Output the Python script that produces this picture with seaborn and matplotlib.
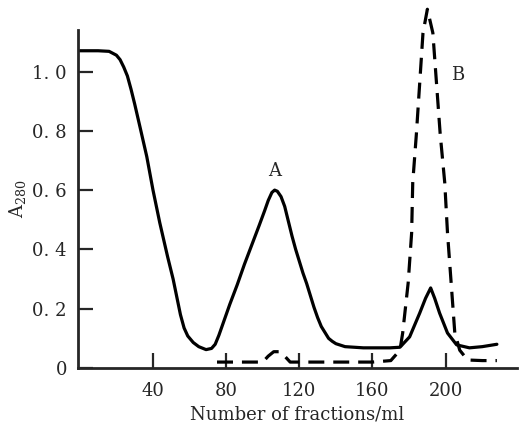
import matplotlib
matplotlib.use("Agg")
import matplotlib.pyplot as plt
import seaborn as sns
import pandas as pd

# Solid curve (A280 profile)
solid_x = [0, 10, 16, 20, 22, 24, 26, 28, 30, 33, 36.6, 40, 43.7, 48, 51, 53, 55, 57, 59, 62, 65, 69, 72, 74, 76,
           78, 80, 82, 86, 90, 94, 98, 101, 103, 105, 106.5, 108, 110, 112, 114, 116, 118, 120, 122, 124, 126, 128, 130,
           132, 134, 136, 138, 140, 145, 155,
           169.6, 175, 180.3, 185.8, 189, 191.8, 194, 196.7, 201, 206, 213, 220, 228]
solid_y = [1.07, 1.07, 1.068, 1.055, 1.04, 1.015, 0.985, 0.94, 0.89, 0.81, 0.713, 0.60, 0.49, 0.375, 0.30, 0.24, 0.18, 0.135, 0.108, 0.086, 0.072, 0.062, 0.066, 0.08, 0.11,
           0.145, 0.18, 0.215, 0.28, 0.35, 0.415, 0.48, 0.53, 0.565, 0.592, 0.60, 0.596, 0.578, 0.545, 0.495, 0.445, 0.40, 0.36, 0.32, 0.285, 0.245, 0.205, 0.17,
           0.14, 0.12, 0.10, 0.09, 0.082, 0.072, 0.068,
           0.068, 0.07, 0.105, 0.185, 0.235, 0.27, 0.235, 0.185, 0.118, 0.078, 0.068, 0.072, 0.08]

# Dashed curve
dash_x = [75, 100, 103, 106, 109, 112, 115, 160, 170, 175, 176.5, 179.5, 181.4, 182, 184, 185.8, 187.6, 190,
          193, 195, 197, 199.5, 201, 203, 205, 207.7, 212, 220, 228]
dash_y = [0.02, 0.02, 0.04, 0.055, 0.055, 0.04, 0.02, 0.02, 0.025, 0.06, 0.118, 0.287, 0.456, 0.625, 0.79, 0.96, 1.13, 1.21,
          1.13, 0.96, 0.79, 0.625, 0.456, 0.287, 0.118, 0.06, 0.027, 0.025, 0.025]

x_ticks = [40, 80, 120, 160, 200]
y_ticks = [0, 0.2, 0.4, 0.6, 0.8, 1.0]
y_tick_labels = ["0", "0. 2", "0. 4", "0. 6", "0. 8", "1. 0"]

peak_labels = ["A", "B"]
peak_label_x = [106.5, 206.5]
peak_label_y = [0.663, 0.987]

sns.set_style("ticks")
plt.rcParams['font.family'] = ['DejaVu Serif']
plt.rcParams['mathtext.fontset'] = 'dejavuserif'

fig = plt.figure(figsize=(5.25, 4.24), dpi=100)
ax = fig.add_axes([78/525, 1-368/424, (517-78)/525, (368-30)/424])

df_s = pd.DataFrame({"x": solid_x, "y": solid_y})
df_d = pd.DataFrame({"x": dash_x, "y": dash_y})
sns.lineplot(data=df_s, x="x", y="y", ax=ax, color="black", linewidth=2.3, sort=False, estimator=None)
sns.lineplot(data=df_d, x="x", y="y", ax=ax, color="black", linewidth=2.3, sort=False, estimator=None)
ax.lines[-1].set_dashes((5, 2.8))
for ln in ax.lines:
    ln.set_clip_on(False)
    ln.set_solid_joinstyle("round")
    ln.set_dash_joinstyle("round")

ax.set_xlim(-1, 239)
ax.set_ylim(0, 1.14)
ax.set_xticks(x_ticks)
ax.set_xticklabels([str(v) for v in x_ticks])
ax.set_yticks(y_ticks)
ax.set_yticklabels(y_tick_labels)
ax.tick_params(direction="in", length=11, width=1.6, labelsize=13, pad=8)
ax.tick_params(axis="x", pad=10)

for s in ["top", "right"]:
    ax.spines[s].set_visible(False)
for s in ["left", "bottom"]:
    ax.spines[s].set_linewidth(2.0)

ax.set_xlabel("Number of fractions/ml", fontsize=13, labelpad=4)
ax.set_ylabel(r"A$_{280}$", fontsize=13, labelpad=3)

for t, x, y in zip(peak_labels, peak_label_x, peak_label_y):
    ax.text(x, y, t, ha="center", va="center", fontsize=13)

fig.savefig("out.png", dpi=100)
